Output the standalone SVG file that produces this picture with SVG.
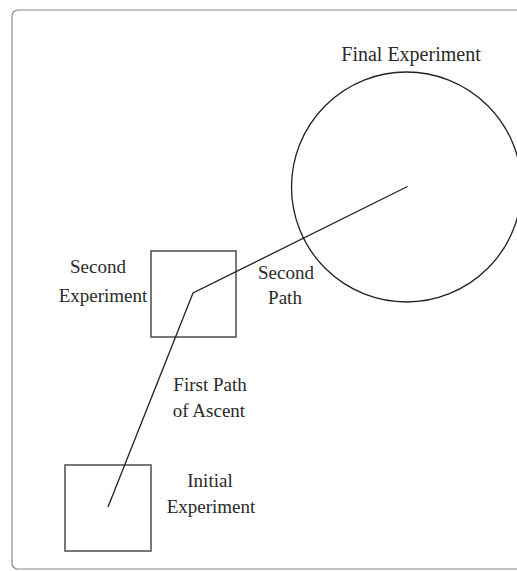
<svg xmlns="http://www.w3.org/2000/svg" width="517" height="571" viewBox="0 0 517 571">
<style>
text{font-family:"Liberation Serif","Times New Roman",serif;font-size:19px;fill:#2a2a2a;text-anchor:middle}
.box{fill:none;stroke:#555;stroke-width:1.6}
.path{fill:none;stroke:#222;stroke-width:1.3}
</style>
<rect x="0" y="0" width="517" height="571" fill="#fff"/>
<rect x="12" y="10" width="520" height="559" rx="6" fill="none" stroke="#888" stroke-width="1.2"/>
<g id="final-experiment">
<circle cx="406.5" cy="187" r="115" fill="none" stroke="#222" stroke-width="1.3"/>
<text x="411" y="61" style="font-size:20px">Final Experiment</text>
</g>
<g id="second-experiment">
<rect class="box" x="151" y="251" width="85" height="86"/>
<text x="98" y="273">Second</text>
<text x="103" y="302">Experiment</text>
</g>
<g id="initial-experiment">
<rect class="box" x="65" y="465" width="86" height="86"/>
<text x="210" y="487">Initial</text>
<text x="211" y="513">Experiment</text>
</g>
<g id="connectors">
<polyline class="path" points="108,507 193,293 407.5,186.5"/>
</g>
<g id="path-labels">
<text x="286" y="279">Second</text>
<text x="285" y="304">Path</text>
<text x="210" y="391">First Path</text>
<text x="209" y="417">of Ascent</text>
</g>
</svg>
